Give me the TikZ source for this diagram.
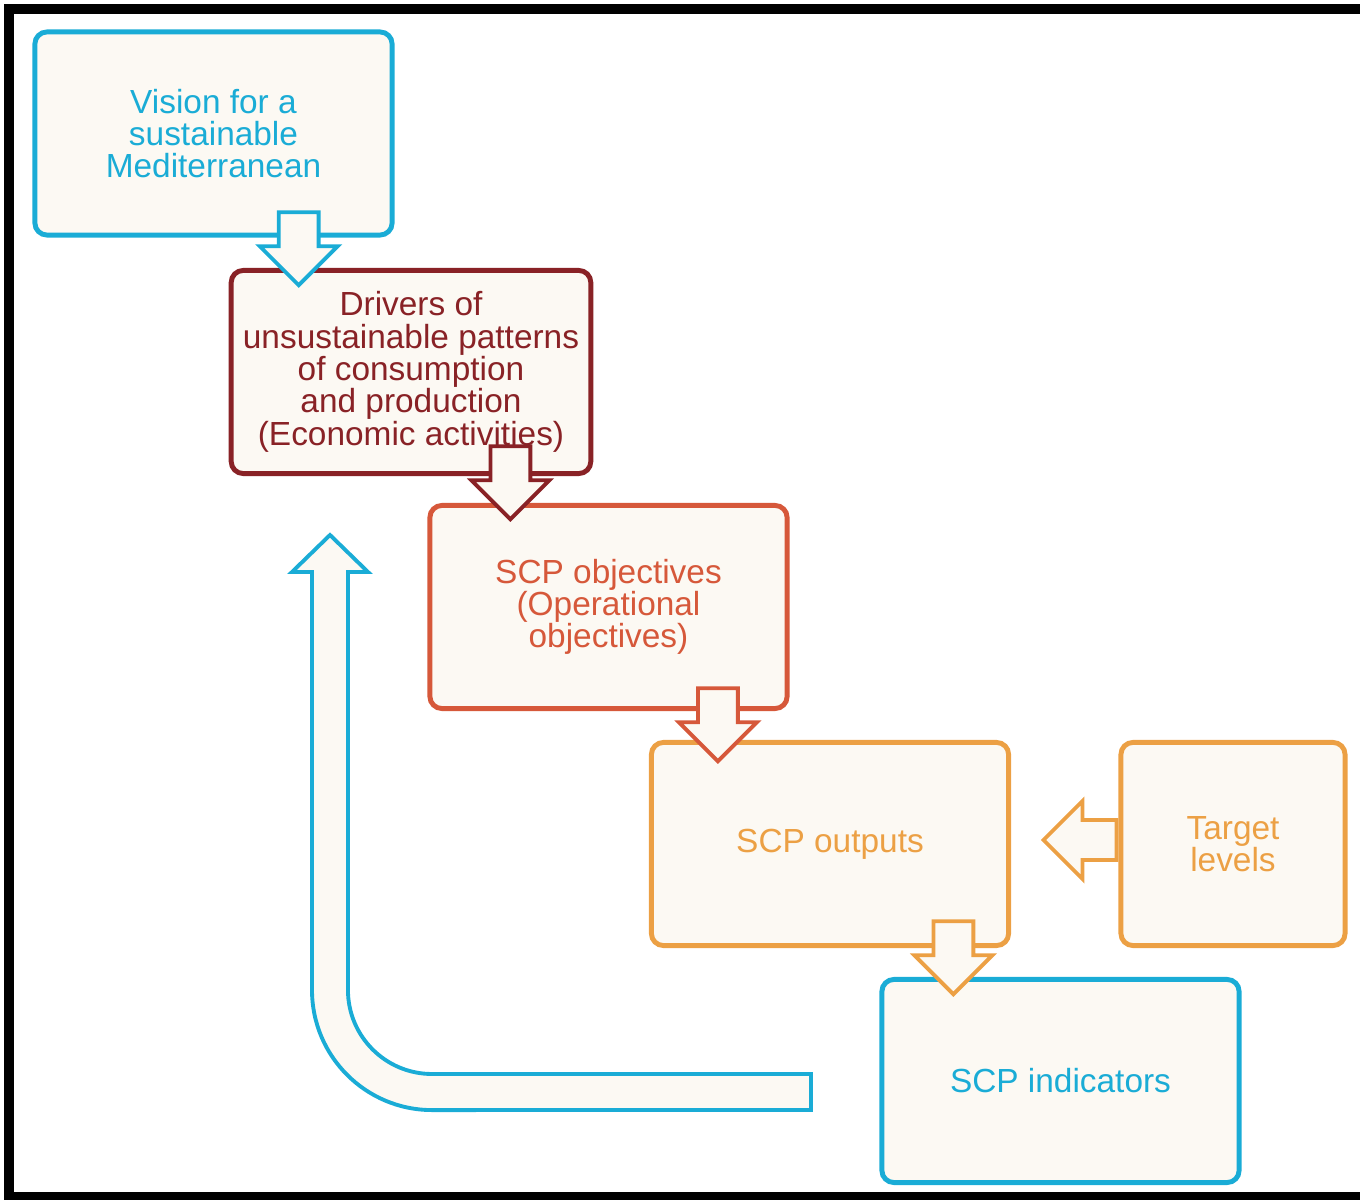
\documentclass[tikz,border=0pt]{standalone}
\usepackage{fontspec}
\setmainfont{Liberation Sans}
\usepackage{tikz}
\usetikzlibrary{positioning,arrows.meta,calc,shapes.arrows}
\definecolor{scpblue}{RGB}{26,172,214}
\definecolor{scpmaroon}{RGB}{137,34,38}
\definecolor{scpred}{RGB}{214,88,58}
\definecolor{scporange}{RGB}{236,160,68}
\definecolor{cream}{RGB}{252,249,243}

\begin{document}
\begin{tikzpicture}[x=0.01cm,y=0.01cm,
  box/.style={draw=#1,text=#1,fill=cream,line width=1.4pt,rounded corners=0.12cm,
    minimum width=3.57cm,minimum height=2.03cm,align=center,
    font=\fontsize{9.5pt}{9.2pt}\selectfont},
  blockarrow/.style={single arrow,draw=#1,fill=cream,line width=1.1pt,
    inner sep=0.18cm,single arrow head extend=0.19cm,
    minimum height=0.73cm}]
\useasboundingbox (0,0) rectangle (1360,1199);
\draw[line width=2.8pt] (9,2) rectangle (1400,1190);

\node[box=scpblue] (vision) at (213.5,1065.5) {Vision for a\\sustainable\\Mediterranean};
\node[box=scpmaroon] (drivers) at (411,827) {Drivers of\\unsustainable patterns\\of consumption\\and production\\(Economic activities)};
\node[box=scpred] (objectives) at (608.5,592) {SCP objectives\\(Operational\\objectives)};
\node[box=scporange] (outputs) at (830,355) {SCP outputs};
\node[box=scporange,minimum width=2.24cm] (target) at (1233,355) {Target\\levels};
\node[box=scpblue] (indicators) at (1060.5,118) {SCP indicators};

\node[blockarrow=scpblue,shape border rotate=270,anchor=tip] (a1) at ($(drivers.north west)+(70,-20)$) {};
\node[blockarrow=scpmaroon,shape border rotate=270,anchor=tip] (a2) at ($(objectives.north west)+(83,-19)$) {};
\node[blockarrow=scpred,shape border rotate=270,anchor=tip] (a3) at ($(outputs.north west)+(69,-24)$) {};
\node[blockarrow=scporange,shape border rotate=270,anchor=tip] (a4) at ($(indicators.north west)+(74,-20)$) {};
\node[blockarrow=scporange,shape border rotate=180,anchor=tail] (a5) at ($(target.west)+(0,4)$) {};

\draw[scpblue,fill=cream,line width=1.1pt,line join=miter]
  (811,125) -- (432,125) arc[start angle=270,end angle=180,radius=0.84cm]
  -- (348,627) -- (368,627) -- (330,664) -- (292,627) -- (312,627)
  -- (312,209) arc[start angle=180,end angle=270,radius=1.2cm]
  -- (811,89) -- cycle;
\end{tikzpicture}
\end{document}
